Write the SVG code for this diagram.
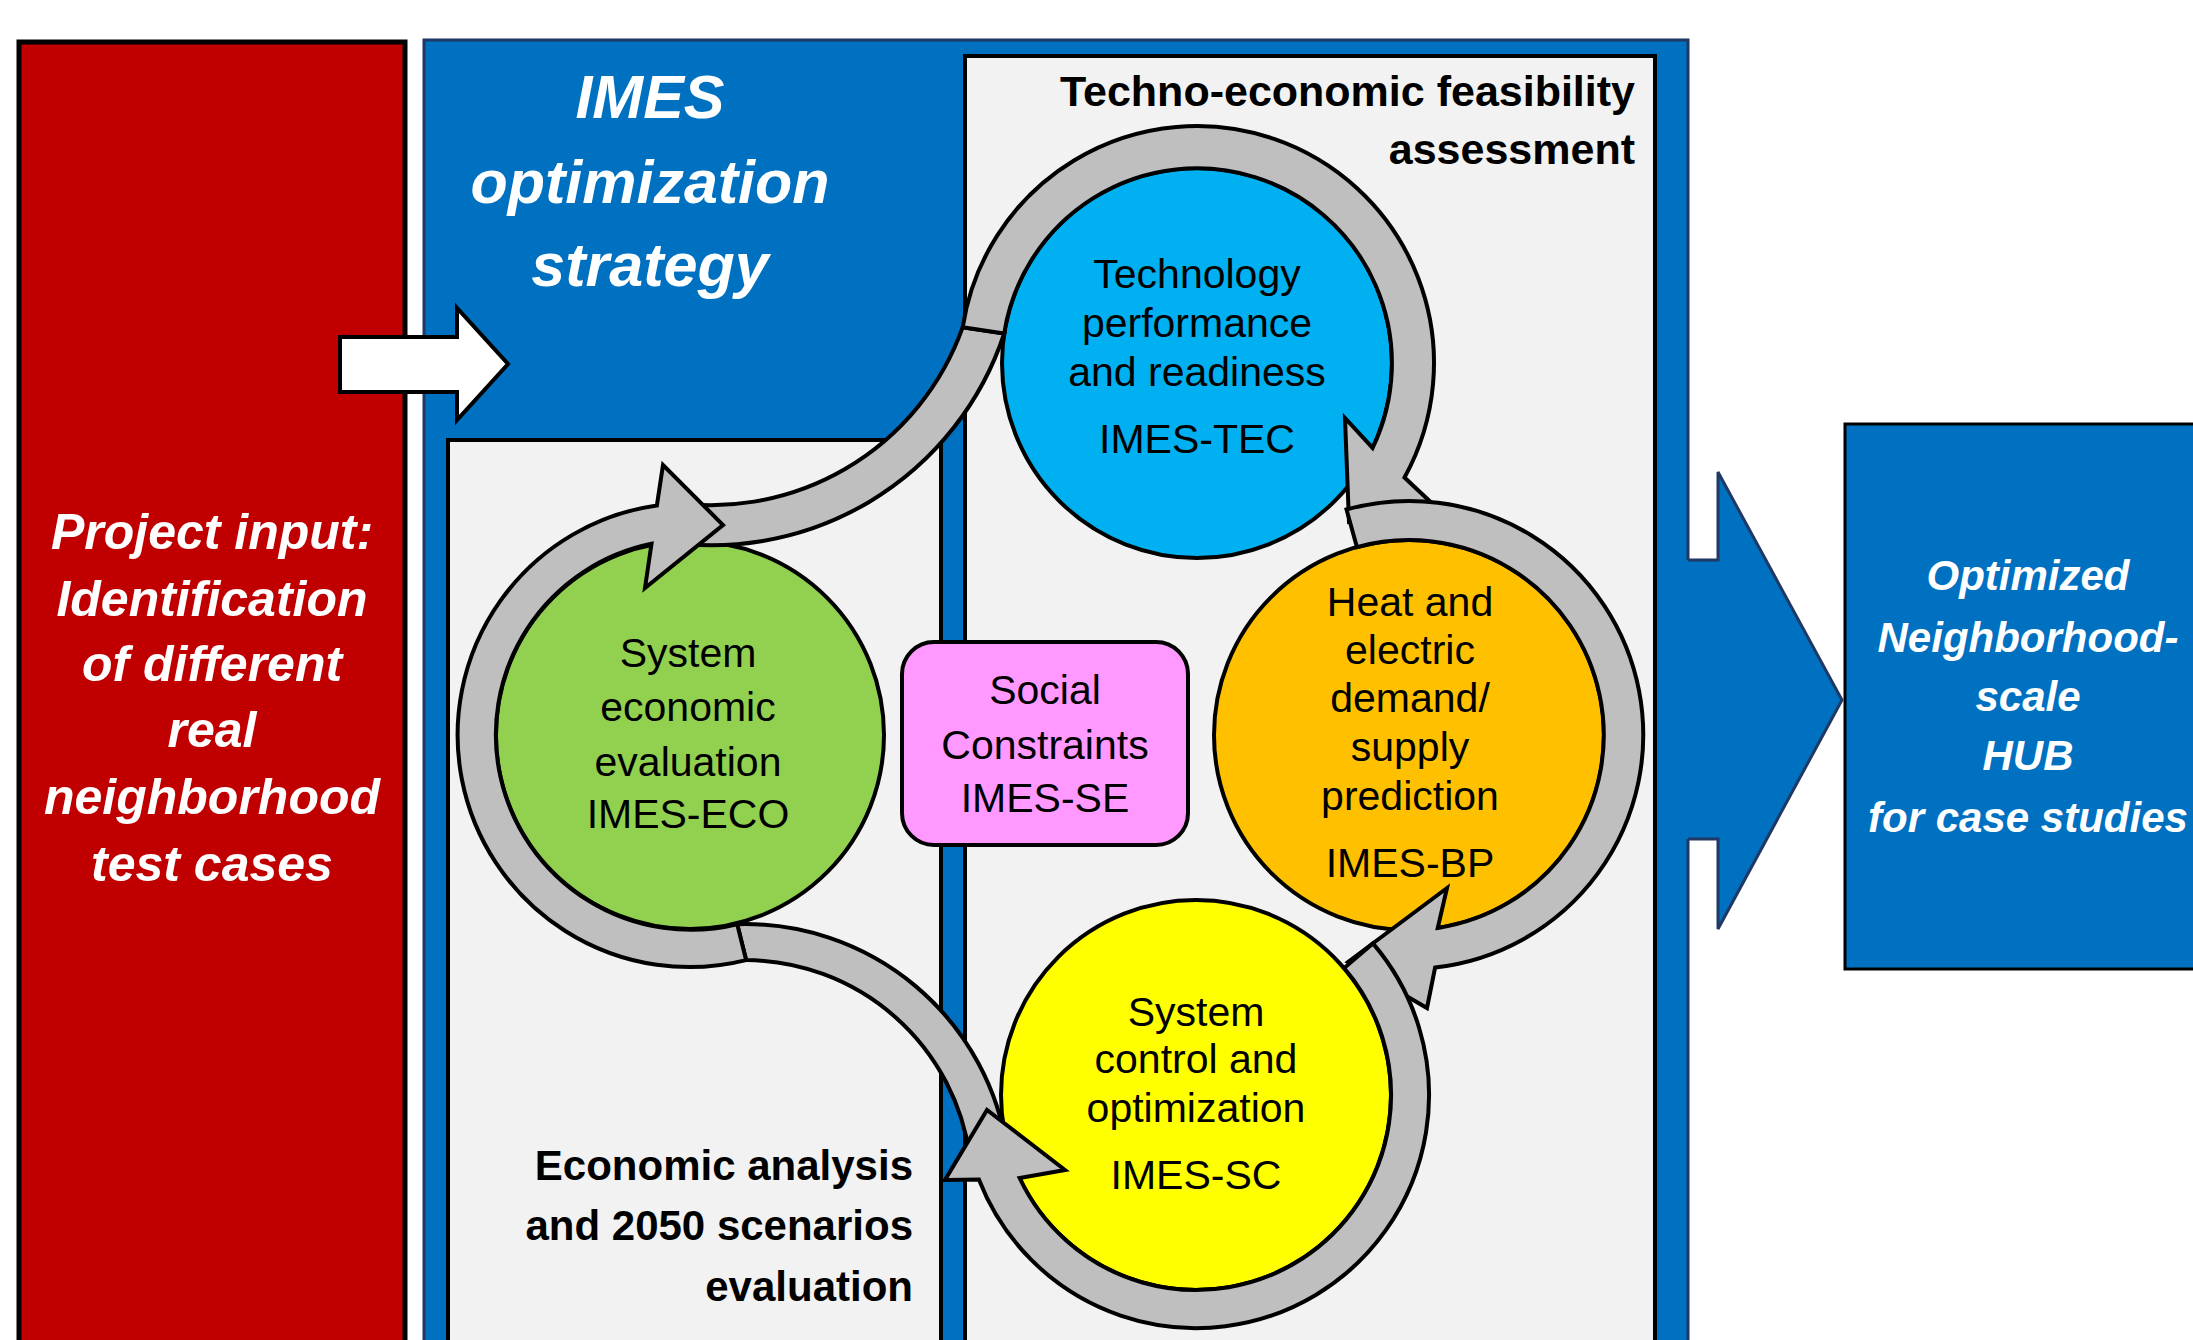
<svg xmlns="http://www.w3.org/2000/svg" width="2193" height="1340" viewBox="0 0 2193 1340">
  <style>
    .ring { fill: #BFBFBF; stroke: #000; stroke-width: 4; stroke-linejoin: miter; }
    .node { stroke: #000; stroke-width: 4; }
    .lbl { font-family: "Liberation Sans", Arial, sans-serif; font-size: 41px; fill: #000; text-anchor: middle; }
    .head { font-family: "Liberation Sans", Arial, sans-serif; font-size: 42px; font-weight: bold; fill: #000; text-anchor: end; }
    .head.big { font-size: 43px; }
    .wt { font-family: "Liberation Sans", Arial, sans-serif; font-weight: bold; font-style: italic; fill: #fff; text-anchor: middle; }
    .panel { fill: #F2F2F2; stroke: #000; stroke-width: 4; }
  </style>

  <rect width="2193" height="1340" fill="#fff"/>

  <!-- Project input column -->
  <g id="input">
    <rect x="19" y="42" width="386" height="1330" fill="#C00000" stroke="#000" stroke-width="5"/>
    <g class="wt" font-size="50">
      <text x="212" y="549">Project input:</text>
      <text x="212" y="616">Identification</text>
      <text x="212" y="681">of different</text>
      <text x="212" y="747">real</text>
      <text x="212" y="814">neighborhood</text>
      <text x="212" y="881">test cases</text>
    </g>
  </g>

  <!-- Optimization strategy frame with its two sub-panels -->
  <g id="strategy">
    <rect x="424" y="40" width="1264" height="1340" fill="#0070C0" stroke="#1F3864" stroke-width="3"/>
    <rect class="panel" x="965" y="56" width="690" height="1330"/>
    <rect class="panel" x="448" y="440" width="493" height="950"/>
    <g class="wt" font-size="61">
      <text x="650" y="118">IMES</text>
      <text x="650" y="203">optimization</text>
      <text x="650" y="286">strategy</text>
    </g>
    <text class="head big" x="1635" y="106">Techno-economic feasibility</text>
    <text class="head big" x="1635" y="164">assessment</text>
    <text class="head" x="913" y="1180">Economic analysis</text>
    <text class="head" x="913" y="1240">and 2050 scenarios</text>
    <text class="head" x="913" y="1301">evaluation</text>
  </g>

  <!-- Result box -->
  <g id="output">
    <rect x="1845" y="424" width="380" height="545" fill="#0070C0" stroke="#000" stroke-width="3"/>
    <g class="wt" font-size="42">
      <text x="2028" y="590">Optimized</text>
      <text x="2028" y="652">Neighborhood-</text>
      <text x="2028" y="711">scale</text>
      <text x="2028" y="770">HUB</text>
      <text x="2028" y="832">for case studies</text>
    </g>
  </g>

  <!-- Modules -->
  <g id="node-tec">
    <circle class="node" cx="1197" cy="363" r="195" fill="#00B0F0"/>
    <g class="lbl">
      <text x="1197" y="288">Technology</text>
      <text x="1197" y="337">performance</text>
      <text x="1197" y="386">and readiness</text>
      <text x="1197" y="453">IMES-TEC</text>
    </g>
  </g>
  <g id="node-bp">
    <circle class="node" cx="1409" cy="735" r="195" fill="#FFC000"/>
    <g class="lbl">
      <text x="1410" y="616">Heat and</text>
      <text x="1410" y="664">electric</text>
      <text x="1410" y="712">demand/</text>
      <text x="1410" y="761">supply</text>
      <text x="1410" y="810">prediction</text>
      <text x="1410" y="877">IMES-BP</text>
    </g>
  </g>
  <g id="node-sc">
    <circle class="node" cx="1196" cy="1095" r="195" fill="#FFFF00"/>
    <g class="lbl">
      <text x="1196" y="1026">System</text>
      <text x="1196" y="1073">control and</text>
      <text x="1196" y="1122">optimization</text>
      <text x="1196" y="1189">IMES-SC</text>
    </g>
  </g>
  <g id="node-eco">
    <circle class="node" cx="690" cy="735" r="194" fill="#92D050"/>
    <g class="lbl">
      <text x="688" y="667">System</text>
      <text x="688" y="721">economic</text>
      <text x="688" y="776">evaluation</text>
      <text x="688" y="828">IMES-ECO</text>
    </g>
  </g>
  <g id="node-se">
    <rect class="node" x="902" y="642" width="286" height="203" rx="32" fill="#FF99FF"/>
    <g class="lbl">
      <text x="1045" y="704">Social</text>
      <text x="1045" y="759">Constraints</text>
      <text x="1045" y="812">IMES-SE</text>
    </g>
  </g>

  <!-- Connectors: input/output block arrows and the circular process loop -->
  <g id="connectors">
    <polygon points="340,337 457,337 457,308 508,364 457,420 457,392 340,392" fill="#fff" stroke="#000" stroke-width="4"/>

    <polygon points="1680,560 1718,560 1718,472 1842,700 1718,929 1718,839 1680,839" fill="#0070C0"/>
    <path d="M1688 560 L1718 560 L1718 472 L1842 700 L1718 929 L1718 839 L1688 839" fill="none" stroke="#1F3864" stroke-width="3" stroke-linejoin="miter"/>

    <!-- S-shaped links -->
    <path class="ring" d="M663.6 500.9 A267 267 0 0 0 962.7 327.2 L1004.2 333.5 A308 308 0 0 1 656.7 540.3 Z"/>
    <path class="ring" d="M737.2 924.2 A265 265 0 0 1 1007.4 1151.1 L969.8 1156.4 A227 227 0 0 0 746.1 960.1 Z"/>

    <!-- ring around TEC -->
    <path class="ring" d="M962.7 327.2 A237 237 0 1 1 1404.5 477.5 L1437 508 L1349 522 L1345 418 L1372.6 447.9 A195 195 0 1 0 1004.2 333.5 Z"/>
    <!-- ring around BP -->
    <path class="ring" d="M1346.5 509.5 A234 234 0 1 1 1435.1 967.5 L1427 1008 L1348 962 L1447 888 L1437.8 927.9 A195 195 0 1 0 1356.9 547.1 Z"/>
    <!-- ring around SC -->
    <path class="ring" d="M1372.9 943.4 A233 233 0 1 1 978.9 1179.6 L945 1180 L987 1110 L1065 1170 L1019.6 1178 A195 195 0 1 0 1344.1 968.1 Z"/>
    <!-- ring around ECO -->
    <path class="ring" d="M746.1 960.1 A232 232 0 1 1 656.9 505.4 L663 465 L723 525 L645 588 L651.5 543.8 A195 195 0 1 0 737.2 924.2 Z"/>
  </g>
</svg>
